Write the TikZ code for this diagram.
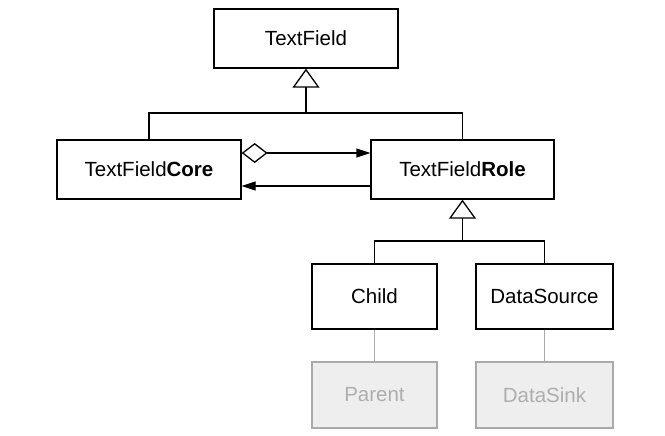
\documentclass[tikz,border=0pt]{standalone}
\usepackage{fontspec}
\setmainfont{Liberation Sans}
\usetikzlibrary{arrows.meta}
\definecolor{ghostfill}{HTML}{EEEEEE}
\definecolor{ghostline}{HTML}{AAAAAA}
\definecolor{ghosttext}{HTML}{AEAEAE}
\begin{document}
\begin{tikzpicture}[x=1pt,y=-1pt,
  box/.style={draw, line width=1.3pt, inner sep=0pt, font=\fontsize{20.5}{24}\selectfont},
  ghost/.style={draw=ghostline, fill=ghostfill, text=ghosttext, line width=1.3pt, inner sep=0pt, font=\fontsize{20.5}{24}\selectfont},
  conn/.style={line width=1.3pt},
  gen/.style={conn, -{Triangle[open,length=19pt,width=27pt,line width=1.3pt]}},
  nav/.style={conn, -{Triangle[length=14pt,width=9pt]}},
  ghostconn/.style={draw=ghostline, line width=1.3pt}
]
\useasboundingbox (0,0) rectangle (665,436);
\node[box, minimum width=184pt, minimum height=59pt] (tf) at (306,38.5) {TextField};
\node[box, minimum width=184pt, minimum height=59pt] (core) at (149,169.5) {TextField\textbf{Core}};
\node[box, minimum width=183pt, minimum height=59pt] (role) at (462.5,169.5) {TextField\textbf{Role}};
\node[box, minimum width=125pt, minimum height=65pt] (child) at (374.5,296.5) {Child};
\node[box, minimum width=137pt, minimum height=65pt] (ds) at (544.5,296.5) {DataSource};
\node[ghost, minimum width=125pt, minimum height=66pt] (parent) at (374.5,395) {Parent};
\node[ghost, minimum width=137pt, minimum height=66pt] (sink) at (544.5,395) {DataSink};

\coordinate (j1) at (306,113);
\coordinate (j2) at (462.5,241);

\draw[gen] (j1) -- (tf.south);
\draw[conn] (core.north) |- (j1) -| (role.north);
\draw[gen] (j2) -- (role.south);
\draw[conn] (child.north) |- (j2) -| (ds.north);

\draw[conn, {Diamond[open,length=26pt,width=20pt,line width=1.3pt]}-{Triangle[length=14pt,width=9pt]}]
  ([yshift=16.5pt]core.east) -- ([yshift=16.5pt]role.west);
\draw[nav] ([yshift=-16.5pt]role.west) -- ([yshift=-16.5pt]core.east);

\draw[ghostconn] (child.south) -- (parent.north);
\draw[ghostconn] (ds.south) -- (sink.north);
\end{tikzpicture}
\end{document}
